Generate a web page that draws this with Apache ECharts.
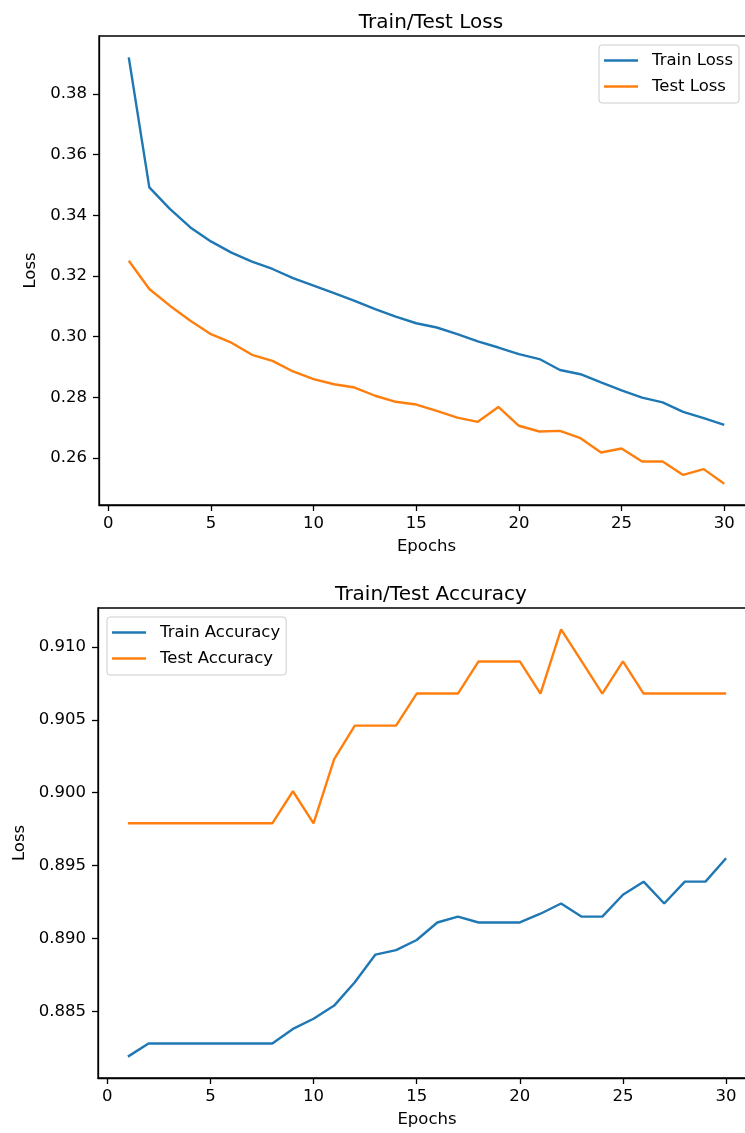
<!DOCTYPE html>
<html>
<head>
<meta charset="utf-8">
<style>html,body{margin:0;padding:0;background:#fff}#c{width:745px;height:1133px}</style>
<script src="https://cdn.jsdelivr.net/npm/echarts@6/dist/echarts.min.js"></script>
</head>
<body>
<div id="c"></div>
<script>
const epochs = [1,2,3,4,5,6,7,8,9,10,11,12,13,14,15,16,17,18,19,20,21,22,23,24,25,26,27,28,29,30];
const trainLoss = [0.3921,0.3492,0.3421,0.3360,0.3314,0.3277,0.3247,0.3223,0.3193,0.3168,0.3143,0.3118,0.3091,0.3066,0.3044,0.3030,0.3008,0.2984,0.2964,0.2942,0.2926,0.2890,0.2876,0.2849,0.2823,0.2799,0.2783,0.2752,0.2731,0.2709];
const testLoss = [0.3250,0.3157,0.3102,0.3052,0.3008,0.2980,0.2940,0.2920,0.2885,0.2860,0.2843,0.2832,0.2805,0.2785,0.2776,0.2755,0.2733,0.2719,0.2768,0.2706,0.2687,0.2689,0.2665,0.2618,0.2631,0.2588,0.2588,0.2544,0.2563,0.2515];
const trainAcc = [0.8819,0.8828,0.8828,0.8828,0.8828,0.8828,0.8828,0.8828,0.8838,0.8845,0.8854,0.8870,0.8889,0.8892,0.8899,0.8911,0.8915,0.8911,0.8911,0.8911,0.8917,0.8924,0.8915,0.8915,0.8930,0.8939,0.8924,0.8939,0.8939,0.8955];
const testAcc = [0.8979,0.8979,0.8979,0.8979,0.8979,0.8979,0.8979,0.8979,0.9001,0.8979,0.9023,0.9046,0.9046,0.9046,0.9068,0.9068,0.9068,0.9090,0.9090,0.9090,0.9068,0.9112,0.9090,0.9068,0.9090,0.9068,0.9068,0.9068,0.9068,0.9068];
const xTicks = [0,5,10,15,20,25,30];
const lossTicks = [0.26,0.28,0.30,0.32,0.34,0.36,0.38];
const accTicks = [0.885,0.890,0.895,0.900,0.905,0.910];

const FONT = 'DejaVu Sans';
const BLUE = '#1f77b4', ORANGE = '#ff7f0e';
function lim(arrs){ let mn=Infinity,mx=-Infinity; arrs.forEach(a=>a.forEach(v=>{mn=Math.min(mn,v);mx=Math.max(mx,v);})); const m=(mx-mn)*0.05; return [mn-m,mx+m]; }
const xl = lim([epochs]);
const yl1 = lim([trainLoss,testLoss]);
const yl2 = lim([trainAcc,testAcc]);
const pair = (ys)=>epochs.map((e,i)=>[e,ys[i]]);

function xAxis(gi){
  return {type:'value', gridIndex:gi, min:xl[0], max:xl[1], name:'Epochs', nameLocation:'middle', nameGap:33,
    nameTextStyle:{fontFamily:FONT,fontSize:16.5,color:'#000'},
    axisLine:{show:true,onZero:false,lineStyle:{color:'#000',width:1.3}},
    axisTick:{show:true,inside:false,length:6,lineStyle:{color:'#000',width:1.3},customValues:xTicks},
    axisLabel:{show:true,margin:10,fontFamily:FONT,fontSize:16.5,color:'#000',customValues:xTicks,formatter:v=>String(Math.round(v))},
    splitLine:{show:false}};
}
function yAxis(gi,yl,ticks,dec,gap){
  return {type:'value', gridIndex:gi, min:yl[0], max:yl[1], name:'Loss', nameLocation:'middle', nameGap:gap, nameRotate:90,
    nameTextStyle:{fontFamily:FONT,fontSize:16.5,color:'#000'},
    axisLine:{show:true,onZero:false,lineStyle:{color:'#000',width:1.3}},
    axisTick:{show:true,inside:false,length:6,lineStyle:{color:'#000',width:1.3},customValues:ticks},
    axisLabel:{show:true,margin:12,fontFamily:FONT,fontSize:16.5,color:'#000',customValues:ticks,formatter:v=>v.toFixed(dec)},
    splitLine:{show:false}};
}
function legend(left,top,names){
  return {data:names, orient:'vertical', left:left, top:top, icon:'rect', itemWidth:34, itemHeight:2.5, itemGap:9,
    padding:[7,6,8,5], borderColor:'#cccccc', borderWidth:1, borderRadius:3, backgroundColor:'rgba(255,255,255,0.8)',
    textStyle:{fontFamily:FONT,fontSize:16.5,color:'#000',padding:[0,0,0,9]}, selectedMode:false};
}
function line(name,xi,ys,color){
  return {type:'line', name:name, xAxisIndex:xi, yAxisIndex:xi, data:pair(ys), symbol:'none', showSymbol:false,
    lineStyle:{color:color,width:2.4}, itemStyle:{color:color}, animation:false, z:3};
}

const chart = echarts.init(document.getElementById('c'), null, {renderer:'canvas'});
chart.setOption({
  animation:false,
  backgroundColor:'#fff',
  title:[
    {text:'Train/Test Loss', left:426, top:8, textAlign:'center', textStyle:{fontFamily:FONT,fontSize:20,fontWeight:'normal',color:'#000'}},
    {text:'Train/Test Accuracy', left:426, top:580, textAlign:'center', textStyle:{fontFamily:FONT,fontSize:20,fontWeight:'normal',color:'#000'}}
  ],
  legend:[legend(599,45,['Train Loss','Test Loss']), legend(107,617,['Train Accuracy','Test Accuracy'])],
  grid:[
    {left:99, width:655, top:36, height:469, show:true, borderColor:'#000', borderWidth:1.3, containLabel:false, outerBoundsMode:'none'},
    {left:98, width:658, top:608, height:470, show:true, borderColor:'#000', borderWidth:1.3, containLabel:false, outerBoundsMode:'none'}
  ],
  xAxis:[xAxis(0), xAxis(1)],
  yAxis:[yAxis(0,yl1,lossTicks,2,58), yAxis(1,yl2,accTicks,3,69)],
  series:[
    line('Train Loss',0,trainLoss,BLUE),
    line('Test Loss',0,testLoss,ORANGE),
    line('Train Accuracy',1,trainAcc,BLUE),
    line('Test Accuracy',1,testAcc,ORANGE)
  ]
});
</script>
</body>
</html>
